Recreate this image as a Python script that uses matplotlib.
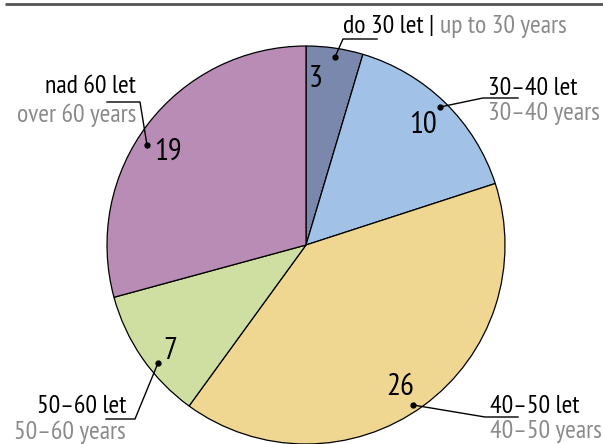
import matplotlib.pyplot as plt
from matplotlib import font_manager

# data
labels_cz = ["do 30 let", "30–40 let", "40–50 let", "50–60 let", "nad 60 let"]
labels_en = ["up to 30 years", "30–40 years", "40–50 years", "50–60 years", "over 60 years"]
counts = [3, 10, 26, 7, 19]
colors = ["#7b88ad", "#a1c1e7", "#f0d791", "#cfdfa1", "#b98cb6"]

# condensed humanist font if there is one
names = {f.name for f in font_manager.fontManager.ttflist}
wanted = ["PT Sans Narrow", "Fira Sans Condensed", "Open Sans Condensed",
          "Roboto Condensed", "Encode Sans Condensed", "Asap Condensed",
          "Sofia Sans Condensed", "IBM Plex Sans Condensed", "Archivo Narrow",
          "Liberation Sans Narrow", "Roboto"]
fam = next((f for f in wanted if f in names), "DejaVu Sans")
plt.rcParams["font.family"] = [fam, "DejaVu Sans"]

W, H = 603, 444
fig = plt.figure(figsize=(W / 100, H / 100), dpi=100)
ax = fig.add_axes([0, 0, 1, 1])


def Y(y):
    # pixel row -> data y
    return H - y


ax.pie(counts, colors=colors, startangle=90, counterclock=False,
       center=(306, Y(245)), radius=199, frame=True,
       wedgeprops=dict(edgecolor="black", linewidth=0.9))
ax.set_xlim(0, W)
ax.set_ylim(0, H)
ax.set_aspect("equal")
ax.axis("off")

# top rule
ax.plot([5, W], [Y(4), Y(4)], color="#555555", lw=2, solid_capstyle="butt")

gray = "#8a8a8a"

# font size from the width of "30–40 years" in the reference (~112 px)
fig.canvas.draw()
probe = ax.text(0, 0, labels_en[1], fontsize=16)
w = probe.get_window_extent(fig.canvas.get_renderer()).width
probe.remove()
fs = 16 * 112 / w

# numbers inside wedges
num_pos = [(316, 87), (423, 133), (400, 395), (170, 359), (168, 160)]
for n, (x, y) in zip(counts, num_pos):
    ax.text(x, Y(y), str(n), fontsize=fs * 1.2, ha="center", va="baseline", color="black")

# leader lines: dot, elbow, end of horizontal
leaders = [
    [(335, 57), (343, 39), (377, 39)],
    [(440, 107), (483, 98), (518, 98)],
    [(413, 405), (485, 417), (518, 417)],
    [(158, 363), (135, 419), (106, 419)],
    [(147, 145), (140, 102), (107, 102)],
]
for pts in leaders:
    xs = [p[0] for p in pts]
    ys = [Y(p[1]) for p in pts]
    ax.plot(xs, ys, color="black", lw=1)
    ax.plot(xs[0], ys[0], "o", color="black", ms=3.5)

# top label on one line
t = ax.text(343, Y(33), labels_cz[0] + " | ", fontsize=fs, ha="left", va="baseline", color="black")
fig.canvas.draw()
bb = t.get_window_extent(fig.canvas.get_renderer())
x_end = ax.transData.inverted().transform((bb.x1, 0))[0]
ax.text(x_end, Y(33), labels_en[0], fontsize=fs, ha="left", va="baseline", color=gray)

# two-line labels
two_line = [
    (1, 488, 95, 120, "left"),
    (2, 490, 413, 438, "left"),
    (3, 126, 413, 439, "right"),
    (4, 136, 93, 122, "right"),
]
for i, x, y1, y2, ha in two_line:
    ax.text(x, Y(y1), labels_cz[i], fontsize=fs, ha=ha, va="baseline", color="black")
    ax.text(x, Y(y2), labels_en[i], fontsize=fs, ha=ha, va="baseline", color=gray)

fig.savefig("out.png", dpi=100)
